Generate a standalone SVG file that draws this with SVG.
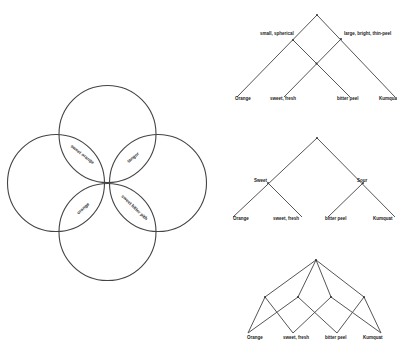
<svg xmlns="http://www.w3.org/2000/svg" width="397" height="340" viewBox="0 0 397 340">
<style>
.c{fill:none;stroke:#444;stroke-width:1.1}
.e{fill:none;stroke:#555;stroke-width:1}
.d{fill:#333}
.t{font-family:"Liberation Sans",Arial,sans-serif;font-size:4.5px;font-weight:bold;fill:#222}
.lt{font-family:"Liberation Sans",Arial,sans-serif;font-size:4.5px;font-weight:bold;fill:#333;text-anchor:middle}
</style>
<rect width="397" height="340" fill="#fff"/>
<g id="venn">
<circle id="c-top" class="c" cx="107.5" cy="134" r="48.5"/>
<circle id="c-left" class="c" cx="56" cy="183" r="48.5"/>
<circle id="c-right" class="c" cx="158" cy="183" r="48.5"/>
<circle id="c-bottom" class="c" cx="107.5" cy="232" r="48.5"/>
<text class="lt" transform="translate(81.5,155.5) rotate(38)">sweet orange</text>
<text class="lt" transform="translate(134,158.5) rotate(-40)">tangor</text>
<text class="lt" transform="translate(84,209.5) rotate(-42)">orange</text>
<text class="lt" transform="translate(133.5,208.5) rotate(44)">sweet bitter pith</text>
</g>
<g id="connectors">
<line class="e" x1="317" y1="15" x2="237" y2="97"/>
<line class="e" x1="317" y1="15" x2="395" y2="97"/>
<line class="e" x1="293" y1="40" x2="350" y2="97"/>
<line class="e" x1="341" y1="39" x2="284" y2="97"/>
<line class="e" x1="317" y1="138" x2="233" y2="217"/>
<line class="e" x1="317" y1="138" x2="395" y2="217"/>
<line class="e" x1="268" y1="183" x2="302" y2="217"/>
<line class="e" x1="363" y1="183" x2="328" y2="217"/>
<line class="e" x1="316" y1="260" x2="265" y2="297"/>
<line class="e" x1="316" y1="260" x2="298" y2="297"/>
<line class="e" x1="316" y1="260" x2="331" y2="297"/>
<line class="e" x1="316" y1="260" x2="364" y2="297"/>
<line class="e" x1="265" y1="297" x2="248" y2="333"/>
<line class="e" x1="265" y1="297" x2="293" y2="333"/>
<line class="e" x1="298" y1="297" x2="248" y2="333"/>
<line class="e" x1="298" y1="297" x2="337" y2="333"/>
<line class="e" x1="331" y1="297" x2="293" y2="333"/>
<line class="e" x1="331" y1="297" x2="381" y2="333"/>
<line class="e" x1="364" y1="297" x2="337" y2="333"/>
<line class="e" x1="364" y1="297" x2="381" y2="333"/>
</g>
<g id="tree1">
<g id="t1-root"><circle class="d" cx="317" cy="15" r="1"/></g>
<g id="t1-left"><circle class="d" cx="293" cy="40" r="1"/><text class="t" x="260" y="35">small, spherical</text></g>
<g id="t1-right"><circle class="d" cx="341" cy="39" r="1"/><text class="t" x="344" y="35">large, bright, thin-peel</text></g>
<g id="t1-mid"><circle class="d" cx="316.5" cy="63.5" r="1"/></g>
<g id="t1-l1"><text class="t" x="235" y="100">Orange</text></g>
<g id="t1-l2"><text class="t" x="270" y="100">sweet, fresh</text></g>
<g id="t1-l3"><text class="t" x="337" y="100">bitter peel</text></g>
<g id="t1-l4"><text class="t" x="379" y="100">Kumquat</text></g>
</g>
<g id="tree2">
<g id="t2-root"><circle class="d" cx="317" cy="138" r="1"/></g>
<g id="t2-left"><circle class="d" cx="268" cy="183" r="1"/><text class="t" x="254" y="182">Sweet</text></g>
<g id="t2-right"><circle class="d" cx="363" cy="183" r="1"/><text class="t" x="357" y="182">Sour</text></g>
<g id="t2-l1"><text class="t" x="233" y="220">Orange</text></g>
<g id="t2-l2"><text class="t" x="273" y="220">sweet, fresh</text></g>
<g id="t2-l3"><text class="t" x="325" y="220">bitter peel</text></g>
<g id="t2-l4"><text class="t" x="373" y="220">Kumquat</text></g>
</g>
<g id="tree3">
<g id="t3-root"><circle class="d" cx="316" cy="260" r="1.1"/></g>
<g id="t3-n1"><circle class="d" cx="265" cy="297" r="1"/></g>
<g id="t3-n2"><circle class="d" cx="298" cy="297" r="1"/></g>
<g id="t3-n3"><circle class="d" cx="331" cy="297" r="1"/></g>
<g id="t3-n4"><circle class="d" cx="364" cy="297" r="1"/></g>
<g id="t3-l1"><text class="t" x="247" y="339">Orange</text></g>
<g id="t3-l2"><text class="t" x="283" y="339">sweet, fresh</text></g>
<g id="t3-l3"><text class="t" x="325" y="339">bitter peel</text></g>
<g id="t3-l4"><text class="t" x="363" y="339">Kumquat</text></g>
</g>
</svg>
